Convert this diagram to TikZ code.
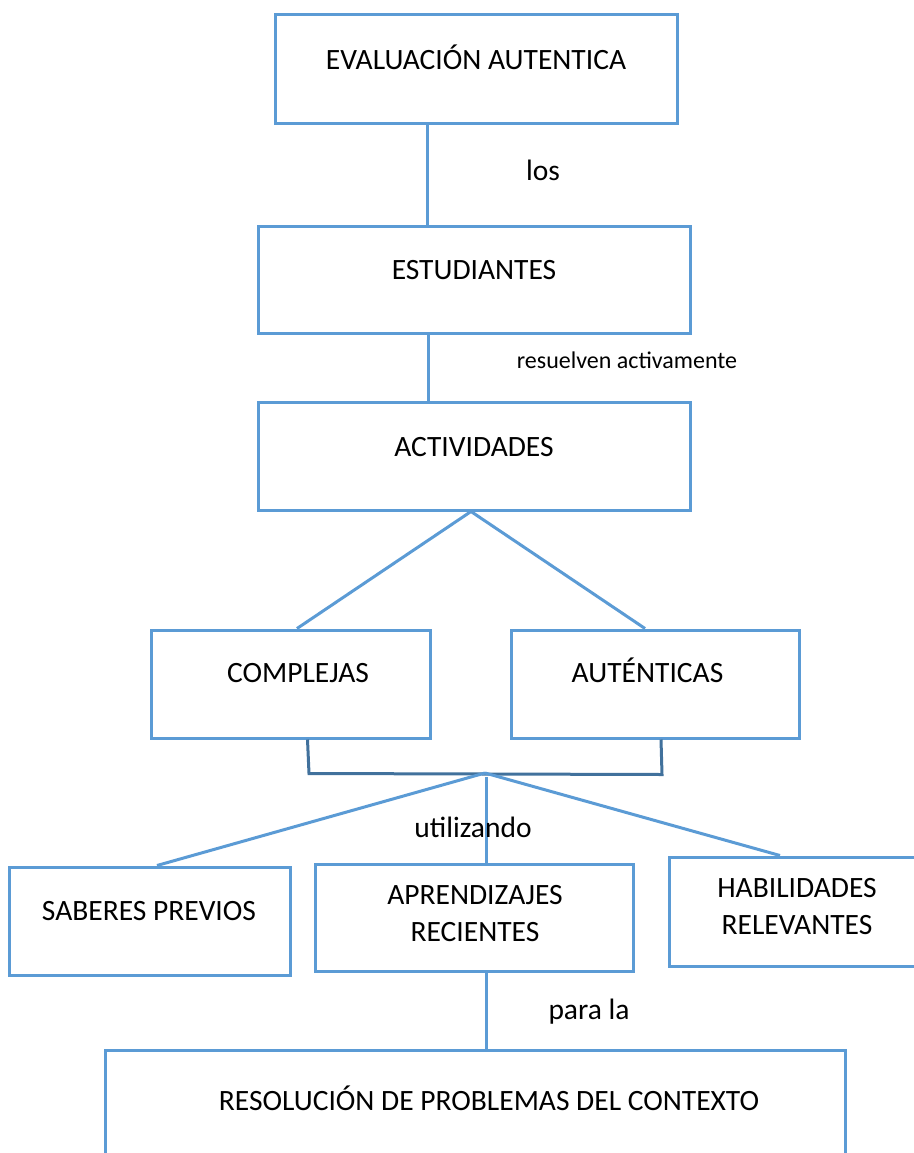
\documentclass[tikz,border=0pt]{standalone}
\usepackage{fontspec}
\setmainfont{Carlito}
\definecolor{azul}{HTML}{5B9BD5}
\definecolor{azuloscuro}{HTML}{41719C}
\tikzset{
  caja/.style={draw=azul, line width=3pt, rectangle, inner sep=0pt},
  linea/.style={draw=azul, line width=3pt},
  corchete/.style={draw=azuloscuro, line width=3pt},
  texto/.style={font=\fontsize{29.5}{37}\selectfont, align=center, inner sep=0pt},
  etiqueta/.style={font=\fontsize{29.5}{34}\selectfont, inner sep=0pt},
  chica/.style={font=\fontsize{24}{28}\selectfont, inner sep=0pt}
}
\begin{document}
\begin{tikzpicture}[x=1pt,y=-1pt]
	\useasboundingbox (0,0) rectangle (913,1153);

	% Boxes
	\node[caja, minimum width=402, minimum height=109] (eval) at (476,69.5) {};
	\node[caja, minimum width=432, minimum height=107] (estud) at (474,279.5) {};
	\node[caja, minimum width=432, minimum height=108] (activ) at (474,456) {};
	\node[caja, minimum width=279, minimum height=108] (compl) at (290.5,684) {};
	\node[caja, minimum width=288, minimum height=108] (auten) at (655,684) {};
	\node[caja, minimum width=281, minimum height=108] (saber) at (149.5,921) {};
	\node[caja, minimum width=318, minimum height=107] (aprend) at (474,917.5) {};
	\node[caja, minimum width=256, minimum height=109] (habil) at (797,911.5) {};
	\node[caja, minimum width=740, minimum height=115] (resol) at (475,1107.5) {};

	% Texts in the boxes
	\node[texto] (t-eval) at (476,57) {EVALUACIÓN AUTENTICA};
	\node[texto] (t-estud) at (474,270) {ESTUDIANTES};
	\node[texto] (t-activ) at (474,447) {ACTIVIDADES};
	\node[texto] (t-compl) at (298,673) {COMPLEJAS};
	\node[texto] (t-auten) at (647.5,670) {AUTÉNTICAS};
	\node[texto] (t-saber) at (149,911) {SABERES PREVIOS};
	\node[texto] (t-aprend) at (475,913.5) {APRENDIZAJES\\RECIENTES};
	\node[texto] (t-habil) at (797,907) {HABILIDADES\\RELEVANTES};
	\node[texto] (t-resol) at (489,1098) {RESOLUCIÓN DE PROBLEMAS DEL CONTEXTO};

	% Connectors
	\draw[linea] ([xshift=-49pt]eval.south) -- ([xshift=-47pt]estud.north);
	\draw[linea] ([xshift=-46pt]estud.south) -- ([xshift=-46pt]activ.north);
	\draw[linea] ([xshift=-3pt]activ.south) -- ([xshift=6.5pt]compl.north);
	\draw[linea] ([xshift=-3pt]activ.south) -- ([xshift=-10pt]auten.north);

	% Bracket under the two boxes
	\draw[corchete] ([xshift=17pt]compl.south) -- ([xshift=18.5pt,yshift=-34pt]compl.south)
		-- ([xshift=7pt,yshift=-35pt]auten.south) -- ([xshift=6pt]auten.south);
	\coordinate (union) at (485,773);
	\draw[linea] (union) -- ([xshift=7.5pt]saber.north);
	\draw[linea] ([yshift=-4pt]union.center -| aprend.north) ++(12pt,0) -- ([xshift=12pt]aprend.north);
	\draw[linea] (union) -- ([xshift=-17pt]habil.north);
	\draw[linea] ([xshift=12pt]aprend.south) -- ([xshift=11pt]resol.north);

	% Connector labels
	\node[etiqueta] (l-los) at (543,170) {los};
	\node[chica] (l-resuelven) at (627,360) {resuelven activamente};
	\node[etiqueta] (l-utilizando) at (473,827) {utilizando};
	\node[etiqueta] (l-parala) at (589,1012) {para la};
\end{tikzpicture}
\end{document}
